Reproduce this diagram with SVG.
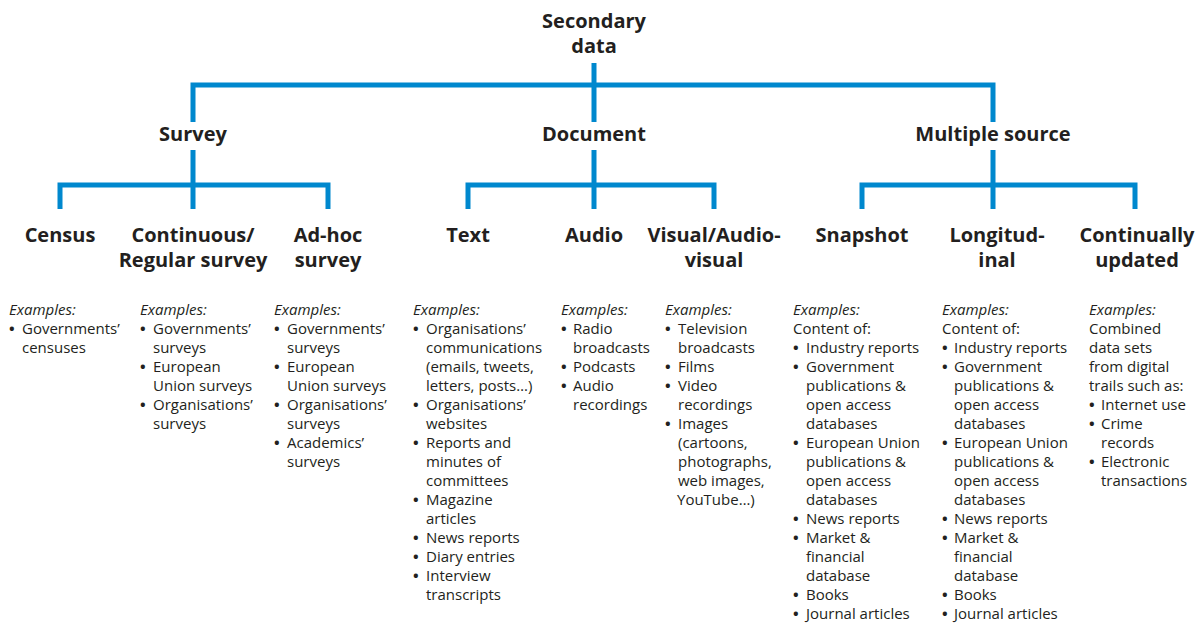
<svg xmlns="http://www.w3.org/2000/svg" width="1202" height="624" viewBox="0 0 1202 624">
<style>
.h{font-family:"Open Sans","Noto Sans",sans-serif;font-weight:bold;font-size:20px;fill:#231F20;text-anchor:middle}
.b{font-family:"Open Sans","Noto Sans",sans-serif;font-size:15px;fill:#231F20}
.i{font-style:italic}
.d{font-weight:bold}
.c{fill:none;stroke:#0088CE;stroke-width:5;stroke-linejoin:miter;stroke-linecap:butt}
</style>
<rect width="1202" height="624" fill="#ffffff"/>
<g id="connectors" class="c">
<path d="M594,63 V122 M193,122 V85 H993 V122"/>
<path d="M193,150 V209 M60,209 V185 H328 V209"/>
<path d="M594,150 V209 M468,209 V185 H714 V209"/>
<path d="M993,150 V209 M862,209 V185 H1135 V209"/>
</g>
<g id="root"><text class="h" x="594" y="28">Secondary<tspan x="594" y="53">data</tspan></text></g>
<g id="survey"><text class="h" x="193" y="141">Survey</text></g>
<g id="document"><text class="h" x="594" y="141">Document</text></g>
<g id="multiple"><text class="h" x="993" y="141">Multiple source</text></g>

<g id="census">
<text class="h" x="60" y="242">Census</text>
<text class="b"><tspan class="i" x="9" y="315">Examples:</tspan><tspan class="d" x="9" y="334">•</tspan><tspan x="22" y="334">Governments’</tspan><tspan x="22" y="353">censuses</tspan></text>
</g>
<g id="continuous">
<text class="h" x="193" y="242">Continuous/<tspan x="193" y="267">Regular survey</tspan></text>
<text class="b"><tspan class="i" x="140" y="315">Examples:</tspan><tspan class="d" x="140" y="334">•</tspan><tspan x="153" y="334">Governments’</tspan><tspan x="153" y="353">surveys</tspan><tspan class="d" x="140" y="372">•</tspan><tspan x="153" y="372">European</tspan><tspan x="153" y="391">Union surveys</tspan><tspan class="d" x="140" y="410">•</tspan><tspan x="153" y="410">Organisations’</tspan><tspan x="153" y="429">surveys</tspan></text>
</g>
<g id="adhoc">
<text class="h" x="328" y="242">Ad-hoc<tspan x="328" y="267">survey</tspan></text>
<text class="b"><tspan class="i" x="274" y="315">Examples:</tspan><tspan class="d" x="274" y="334">•</tspan><tspan x="287" y="334">Governments’</tspan><tspan x="287" y="353">surveys</tspan><tspan class="d" x="274" y="372">•</tspan><tspan x="287" y="372">European</tspan><tspan x="287" y="391">Union surveys</tspan><tspan class="d" x="274" y="410">•</tspan><tspan x="287" y="410">Organisations’</tspan><tspan x="287" y="429">surveys</tspan><tspan class="d" x="274" y="448">•</tspan><tspan x="287" y="448">Academics’</tspan><tspan x="287" y="467">surveys</tspan></text>
</g>
<g id="text">
<text class="h" x="468" y="242">Text</text>
<text class="b"><tspan class="i" x="413" y="315">Examples:</tspan><tspan class="d" x="413" y="334">•</tspan><tspan x="426" y="334">Organisations’</tspan><tspan x="426" y="353">communications</tspan><tspan x="426" y="372">(emails, tweets,</tspan><tspan x="426" y="391">letters, posts…)</tspan><tspan class="d" x="413" y="410">•</tspan><tspan x="426" y="410">Organisations’</tspan><tspan x="426" y="429">websites</tspan><tspan class="d" x="413" y="448">•</tspan><tspan x="426" y="448">Reports and</tspan><tspan x="426" y="467">minutes of</tspan><tspan x="426" y="486">committees</tspan><tspan class="d" x="413" y="505">•</tspan><tspan x="426" y="505">Magazine</tspan><tspan x="426" y="524">articles</tspan><tspan class="d" x="413" y="543">•</tspan><tspan x="426" y="543">News reports</tspan><tspan class="d" x="413" y="562">•</tspan><tspan x="426" y="562">Diary entries</tspan><tspan class="d" x="413" y="581">•</tspan><tspan x="426" y="581">Interview</tspan><tspan x="426" y="600">transcripts</tspan></text>
</g>
<g id="audio">
<text class="h" x="594" y="242">Audio</text>
<text class="b"><tspan class="i" x="561" y="315">Examples:</tspan><tspan class="d" x="561" y="334">•</tspan><tspan x="573" y="334">Radio</tspan><tspan x="573" y="353">broadcasts</tspan><tspan class="d" x="561" y="372">•</tspan><tspan x="573" y="372">Podcasts</tspan><tspan class="d" x="561" y="391">•</tspan><tspan x="573" y="391">Audio</tspan><tspan x="573" y="410">recordings</tspan></text>
</g>
<g id="visual">
<text class="h" x="714" y="242">Visual/Audio-<tspan x="714" y="267">visual</tspan></text>
<text class="b"><tspan class="i" x="665" y="315">Examples:</tspan><tspan class="d" x="665" y="334">•</tspan><tspan x="678" y="334">Television</tspan><tspan x="678" y="353">broadcasts</tspan><tspan class="d" x="665" y="372">•</tspan><tspan x="678" y="372">Films</tspan><tspan class="d" x="665" y="391">•</tspan><tspan x="678" y="391">Video</tspan><tspan x="678" y="410">recordings</tspan><tspan class="d" x="665" y="429">•</tspan><tspan x="678" y="429">Images</tspan><tspan x="678" y="448">(cartoons,</tspan><tspan x="678" y="467">photographs,</tspan><tspan x="678" y="486">web images,</tspan><tspan x="677" y="505">YouTube…)</tspan></text>
</g>
<g id="snapshot">
<text class="h" x="862" y="242">Snapshot</text>
<text class="b"><tspan class="i" x="793" y="315">Examples:</tspan><tspan x="793" y="334">Content of:</tspan><tspan class="d" x="793" y="353">•</tspan><tspan x="806" y="353">Industry reports</tspan><tspan class="d" x="793" y="372">•</tspan><tspan x="806" y="372">Government</tspan><tspan x="806" y="391">publications &amp;</tspan><tspan x="806" y="410">open access</tspan><tspan x="806" y="429">databases</tspan><tspan class="d" x="793" y="448">•</tspan><tspan x="806" y="448">European Union</tspan><tspan x="806" y="467">publications &amp;</tspan><tspan x="806" y="486">open access</tspan><tspan x="806" y="505">databases</tspan><tspan class="d" x="793" y="524">•</tspan><tspan x="806" y="524">News reports</tspan><tspan class="d" x="793" y="543">•</tspan><tspan x="806" y="543">Market &amp;</tspan><tspan x="806" y="562">financial</tspan><tspan x="806" y="581">database</tspan><tspan class="d" x="793" y="600">•</tspan><tspan x="806" y="600">Books</tspan><tspan class="d" x="793" y="619">•</tspan><tspan x="806" y="619">Journal articles</tspan></text>
</g>
<g id="longitudinal">
<text class="h" x="997" y="242">Longitud-<tspan x="997" y="267">inal</tspan></text>
<text class="b"><tspan class="i" x="942" y="315">Examples:</tspan><tspan x="942" y="334">Content of:</tspan><tspan class="d" x="942" y="353">•</tspan><tspan x="954" y="353">Industry reports</tspan><tspan class="d" x="942" y="372">•</tspan><tspan x="954" y="372">Government</tspan><tspan x="954" y="391">publications &amp;</tspan><tspan x="954" y="410">open access</tspan><tspan x="954" y="429">databases</tspan><tspan class="d" x="942" y="448">•</tspan><tspan x="954" y="448">European Union</tspan><tspan x="954" y="467">publications &amp;</tspan><tspan x="954" y="486">open access</tspan><tspan x="954" y="505">databases</tspan><tspan class="d" x="942" y="524">•</tspan><tspan x="954" y="524">News reports</tspan><tspan class="d" x="942" y="543">•</tspan><tspan x="954" y="543">Market &amp;</tspan><tspan x="954" y="562">financial</tspan><tspan x="954" y="581">database</tspan><tspan class="d" x="942" y="600">•</tspan><tspan x="954" y="600">Books</tspan><tspan class="d" x="942" y="619">•</tspan><tspan x="954" y="619">Journal articles</tspan></text>
</g>
<g id="continually">
<text class="h" x="1137" y="242">Continually<tspan x="1137" y="267">updated</tspan></text>
<text class="b"><tspan class="i" x="1089" y="315">Examples:</tspan><tspan x="1089" y="334">Combined</tspan><tspan x="1089" y="353">data sets</tspan><tspan x="1089" y="372">from digital</tspan><tspan x="1089" y="391">trails such as:</tspan><tspan class="d" x="1089" y="410">•</tspan><tspan x="1101" y="410">Internet use</tspan><tspan class="d" x="1089" y="429">•</tspan><tspan x="1101" y="429">Crime</tspan><tspan x="1101" y="448">records</tspan><tspan class="d" x="1089" y="467">•</tspan><tspan x="1101" y="467">Electronic</tspan><tspan x="1101" y="486">transactions</tspan></text>
</g>
</svg>
